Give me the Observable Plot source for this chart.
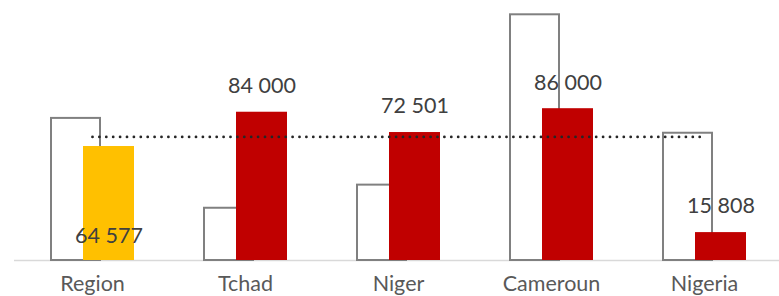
<!DOCTYPE html>
<html>
<head>
<meta charset="utf-8">
<script src="https://cdn.jsdelivr.net/npm/d3@7"></script>
<script src="https://cdn.jsdelivr.net/npm/@observablehq/plot@0.6"></script>
<style>
  html, body { margin: 0; padding: 0; background: #ffffff; }
  #chart svg { display: block; }
</style>
</head>
<body>
<div id="chart"></div>
<script>
const categories = ["Region", "Tchad", "Niger", "Cameroun", "Nigeria"];
const previousValues = [80500, 29600, 42700, 139200, 72100];
const currentValues = [64577, 84000, 72501, 86000, 15808];
const valueLabels = ["64 577", "84 000", "72 501", "86 000", "15 808"];
const referenceValue = 70000;

const previous = categories.map((c, i) => ({cat: c, v: previousValues[i]}));
const current = categories.map((c, i) => ({cat: c, v: currentValues[i], label: valueLabels[i]}));
const refLine = [{cat: categories[0], v: referenceValue}, {cat: categories[categories.length - 1], v: referenceValue}];

const font = "Lato, 'Noto Sans', sans-serif";

const chart = Plot.plot({
  width: 779,
  height: 296,
  marginTop: 0,
  marginBottom: 36,
  marginLeft: 14,
  marginRight: 0,
  style: {fontFamily: font, background: "#ffffff"},
  x: {domain: categories, range: [14, 782], paddingInner: 0.453, paddingOuter: 0.225, label: null},
  y: {domain: [0, 147300], axis: null},
  marks: [
    Plot.ruleY([0], {stroke: "#d9d9d9", strokeWidth: 1.5}),
    Plot.barY(previous, {x: "cat", y: "v", fill: "white", stroke: "#808080", strokeWidth: 2, insetRight: 34, insetLeft: 1, insetBottom: 0}),
    Plot.barY(current, {x: "cat", y: "v", fill: d => d.cat === "Region" ? "#FFC000" : "#C00000", insetLeft: 33}),
    Plot.lineY(refLine, {x: "cat", y: "v", stroke: "#262626", strokeWidth: 2.8, strokeLinecap: "round", strokeDasharray: "0 6.9"}),
    Plot.text(current.filter(d => d.cat !== "Region"), {x: "cat", y: "v", text: "label", dx: 16.5, dy: -26, fontSize: 21.5, fill: "#404040", lineAnchor: "middle"}),
    Plot.text(current.filter(d => d.cat === "Region"), {x: "cat", y: 0, text: "label", dx: 16.5, dy: -24, fontSize: 21.5, fill: "#404040", lineAnchor: "middle"}),
    Plot.axisX({tickSize: 0, tickPadding: 15, fontSize: 21.5, fill: "#595959", label: null})
  ]
});
document.getElementById("chart").appendChild(chart);
</script>
</body>
</html>
